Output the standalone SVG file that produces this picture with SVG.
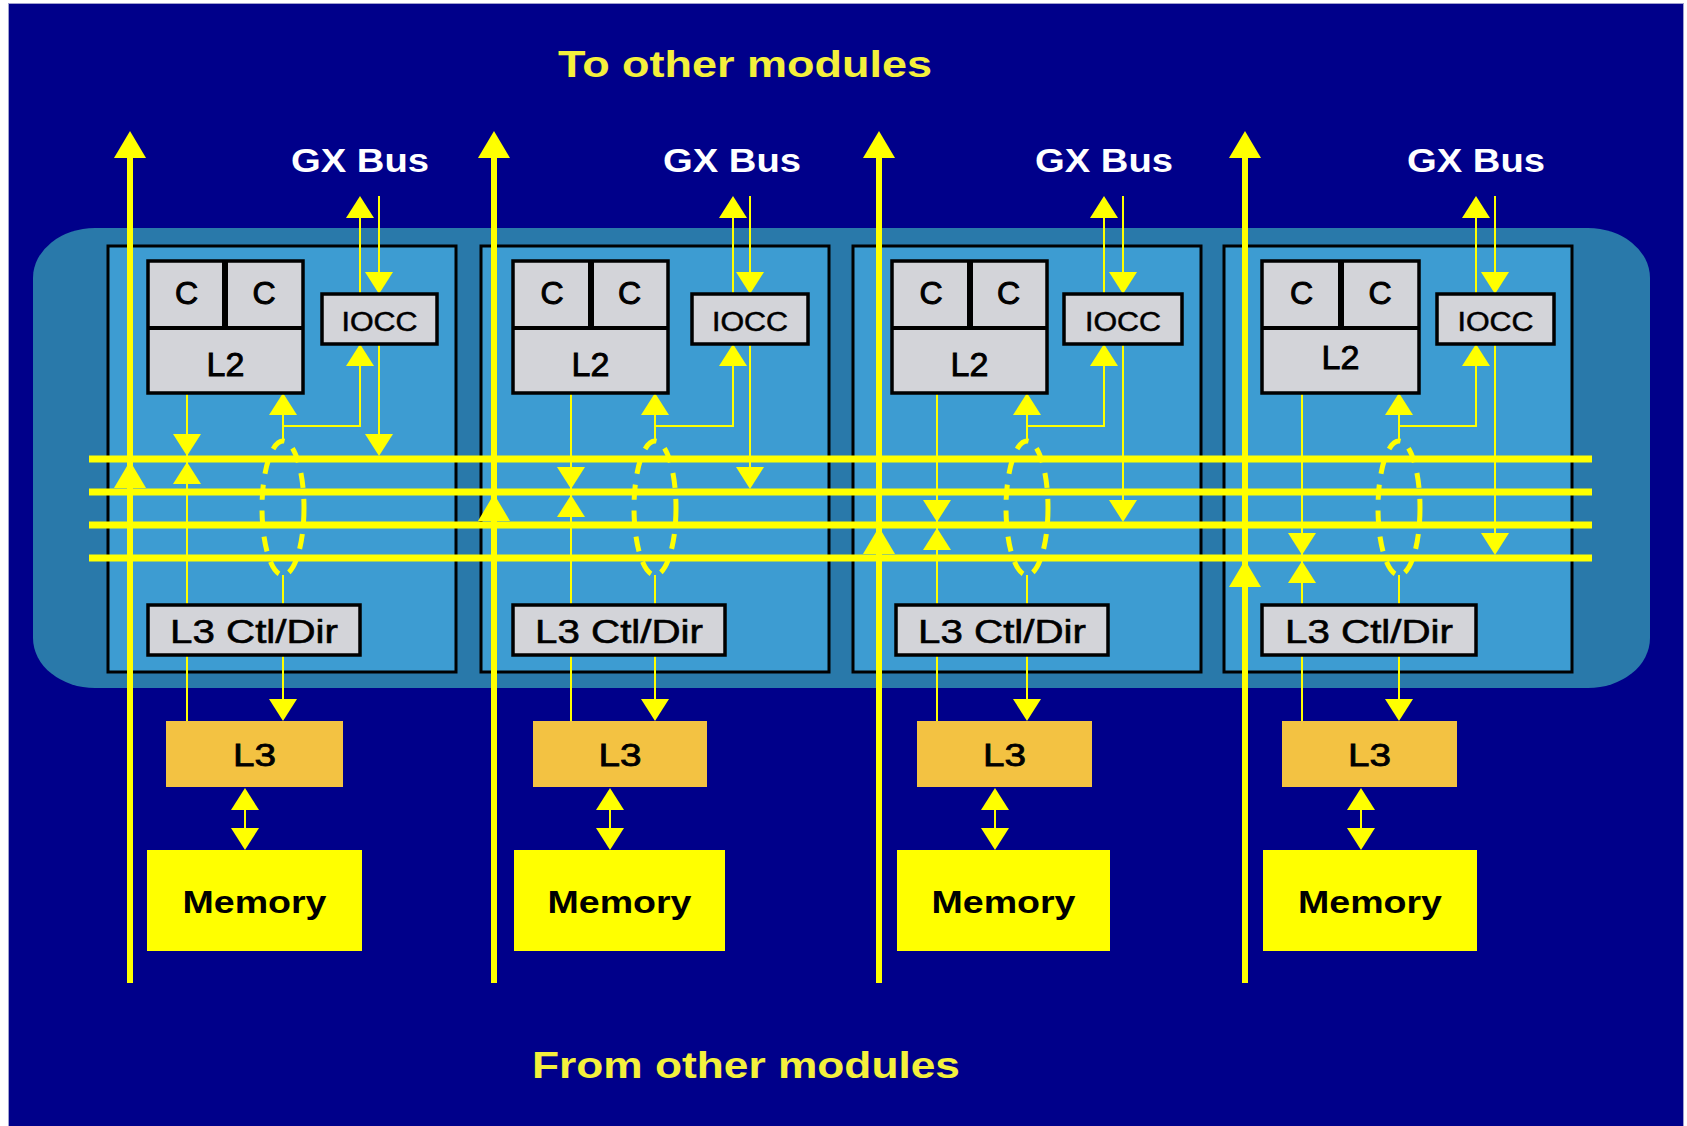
<svg xmlns="http://www.w3.org/2000/svg" xmlns:xlink="http://www.w3.org/1999/xlink" width="1687" height="1126" viewBox="0 0 1687 1126">
<style>
text{font-family:"Liberation Sans",Arial,sans-serif;}
.mod{fill:#3D9CD2;stroke:#000;stroke-width:3;}
.gray{fill:#D3D4D9;stroke:#000;stroke-width:3.5;}
.l3{fill:#F3C242;}
.mem{fill:#FFFF00;}
.bus{stroke:#FFFF00;stroke-width:7;fill:none;}
.vbus{stroke:#FFFF00;stroke-width:6;fill:none;}
.thin{stroke:#FFFF00;stroke-width:2;fill:none;}
.ell{stroke:#FFFF00;stroke-width:5;fill:none;stroke-dasharray:15 11;}
.ah{fill:#FFFF00;}
.lbl{fill:#000;font-size:32px;text-anchor:middle;stroke:#000;stroke-width:1;}
.l2t{fill:#000;font-size:34px;text-anchor:middle;stroke:#000;stroke-width:0.9;}
.io{fill:#000;font-size:27px;text-anchor:middle;stroke:#000;stroke-width:0.5;}
.ctl{fill:#000;font-size:34px;text-anchor:middle;stroke:#000;stroke-width:0.6;}
.l3t{fill:#000;font-size:32px;text-anchor:middle;stroke:#000;stroke-width:0.8;}
.memt{fill:#000;font-size:32px;font-weight:bold;text-anchor:middle;}
.gx{fill:#FFFFFF;font-size:34px;font-weight:bold;text-anchor:middle;}
.title{fill:#F4F03C;font-size:37px;font-weight:bold;text-anchor:middle;}
</style>
<defs>
<path id="up" d="M0,0 L-14,22 L14,22 Z"/>
<path id="dn" d="M0,0 L-14,-22 L14,-22 Z"/>
<path id="bigup" d="M0,0 L-16,27 L16,27 Z"/>
</defs>
<rect x="0" y="0" width="1687" height="1126" fill="#FFFFFF"/>
<rect x="8.5" y="3.5" width="1675" height="1130" fill="#00008A" stroke="#A0A0D0" stroke-width="1"/>
<g id="titles">
<text class="title" x="745" y="77" textLength="374" lengthAdjust="spacingAndGlyphs">To other modules</text>
<text class="title" x="746" y="1078" textLength="428" lengthAdjust="spacingAndGlyphs">From other modules</text>
<text class="gx" x="360" y="172" textLength="138" lengthAdjust="spacingAndGlyphs">GX Bus</text>
<text class="gx" x="732" y="172" textLength="138" lengthAdjust="spacingAndGlyphs">GX Bus</text>
<text class="gx" x="1104" y="172" textLength="138" lengthAdjust="spacingAndGlyphs">GX Bus</text>
<text class="gx" x="1476" y="172" textLength="138" lengthAdjust="spacingAndGlyphs">GX Bus</text>
</g>
<g id="chip">
<rect x="33" y="228" width="1617" height="460" rx="62" ry="50" fill="#2979AA"/>
</g>
<g id="module1"><rect class="mod" x="108" y="246" width="348" height="426"/></g>
<g id="module2"><rect class="mod" x="481" y="246" width="348" height="426"/></g>
<g id="module3"><rect class="mod" x="853" y="246" width="348" height="426"/></g>
<g id="module4"><rect class="mod" x="1224" y="246" width="348" height="426"/></g>

<g id="connectors">
<line class="bus" x1="89" y1="459" x2="1592" y2="459"/>
<line class="bus" x1="89" y1="492" x2="1592" y2="492"/>
<line class="bus" x1="89" y1="525" x2="1592" y2="525"/>
<line class="bus" x1="89" y1="558" x2="1592" y2="558"/>
<line class="vbus" x1="130" y1="150" x2="130" y2="983"/>
<line class="vbus" x1="494" y1="150" x2="494" y2="983"/>
<line class="vbus" x1="879" y1="150" x2="879" y2="983"/>
<line class="vbus" x1="1245" y1="150" x2="1245" y2="983"/>
<g class="ah">
<use xlink:href="#bigup" x="130" y="131"/><use xlink:href="#bigup" x="130" y="461"/>
<use xlink:href="#bigup" x="494" y="131"/><use xlink:href="#bigup" x="494" y="494"/>
<use xlink:href="#bigup" x="879" y="131"/><use xlink:href="#bigup" x="879" y="527"/>
<use xlink:href="#bigup" x="1245" y="131"/><use xlink:href="#bigup" x="1245" y="560"/>
</g>
<path class="thin" d="M360 210 V294 M379 196 V280 M283 442 V405 M283 426 H360 V360 M283 575 V605 M283 655 V705 M187 393 V721 M379 344 V445 M245 800 V838"/>
<ellipse class="ell" cx="283" cy="508" rx="21" ry="67"/>
<g class="ah">
<use xlink:href="#up" x="360" y="196"/><use xlink:href="#dn" x="379" y="294"/>
<use xlink:href="#up" x="360" y="344"/><use xlink:href="#up" x="283" y="393"/>
<use xlink:href="#dn" x="283" y="721"/>
<use xlink:href="#dn" x="187" y="456"/><use xlink:href="#up" x="187" y="462"/>
<use xlink:href="#dn" x="379" y="456"/>
<use xlink:href="#up" x="245" y="788"/><use xlink:href="#dn" x="245" y="850"/>
</g>
<path class="thin" d="M733 210 V294 M750 196 V280 M655 442 V405 M655 426 H733 V360 M655 575 V605 M655 655 V705 M571 393 V721 M750 344 V478 M610 800 V838"/>
<ellipse class="ell" cx="655" cy="508" rx="21" ry="67"/>
<g class="ah">
<use xlink:href="#up" x="733" y="196"/><use xlink:href="#dn" x="750" y="294"/>
<use xlink:href="#up" x="733" y="344"/><use xlink:href="#up" x="655" y="393"/>
<use xlink:href="#dn" x="655" y="721"/>
<use xlink:href="#dn" x="571" y="489"/><use xlink:href="#up" x="571" y="495"/>
<use xlink:href="#dn" x="750" y="489"/>
<use xlink:href="#up" x="610" y="788"/><use xlink:href="#dn" x="610" y="850"/>
</g>
<path class="thin" d="M1104 210 V294 M1123 196 V280 M1027 442 V405 M1027 426 H1104 V360 M1027 575 V605 M1027 655 V705 M937 393 V721 M1123 344 V511 M995 800 V838"/>
<ellipse class="ell" cx="1027" cy="508" rx="21" ry="67"/>
<g class="ah">
<use xlink:href="#up" x="1104" y="196"/><use xlink:href="#dn" x="1123" y="294"/>
<use xlink:href="#up" x="1104" y="344"/><use xlink:href="#up" x="1027" y="393"/>
<use xlink:href="#dn" x="1027" y="721"/>
<use xlink:href="#dn" x="937" y="522"/><use xlink:href="#up" x="937" y="528"/>
<use xlink:href="#dn" x="1123" y="522"/>
<use xlink:href="#up" x="995" y="788"/><use xlink:href="#dn" x="995" y="850"/>
</g>
<path class="thin" d="M1476 210 V294 M1495 196 V280 M1399 442 V405 M1399 426 H1476 V360 M1399 575 V605 M1399 655 V705 M1302 393 V721 M1495 344 V544 M1361 800 V838"/>
<ellipse class="ell" cx="1399" cy="508" rx="21" ry="67"/>
<g class="ah">
<use xlink:href="#up" x="1476" y="196"/><use xlink:href="#dn" x="1495" y="294"/>
<use xlink:href="#up" x="1476" y="344"/><use xlink:href="#up" x="1399" y="393"/>
<use xlink:href="#dn" x="1399" y="721"/>
<use xlink:href="#dn" x="1302" y="555"/><use xlink:href="#up" x="1302" y="561"/>
<use xlink:href="#dn" x="1495" y="555"/>
<use xlink:href="#up" x="1361" y="788"/><use xlink:href="#dn" x="1361" y="850"/>
</g>
</g>

<g id="core1">
<rect class="gray" x="148" y="261" width="155" height="132"/>
<line x1="148" y1="328" x2="303" y2="328" stroke="#000" stroke-width="4"/>
<line x1="225" y1="261" x2="225" y2="328" stroke="#000" stroke-width="6"/>
<text class="lbl" x="186.5" y="304">C</text><text class="lbl" x="264" y="304">C</text>
<text class="l2t" x="225.5" y="376">L2</text>
</g>
<g id="iocc1"><rect class="gray" x="322" y="294" width="115" height="50"/><text class="io" x="379.5" y="331" textLength="76" lengthAdjust="spacingAndGlyphs">IOCC</text></g>
<g id="l3ctl1"><rect class="gray" x="148" y="605" width="212" height="50"/><text class="ctl" x="254" y="643" textLength="168" lengthAdjust="spacingAndGlyphs">L3 Ctl/Dir</text></g>
<g id="l3_1"><rect class="l3" x="166" y="721" width="177" height="66"/><text class="l3t" x="254.5" y="766" textLength="43" lengthAdjust="spacingAndGlyphs">L3</text></g>
<g id="mem1"><rect class="mem" x="147" y="850" width="215" height="101"/><text class="memt" x="254.5" y="913" textLength="144" lengthAdjust="spacingAndGlyphs">Memory</text></g>

<g id="core2">
<rect class="gray" x="513" y="261" width="155" height="132"/>
<line x1="513" y1="328" x2="668" y2="328" stroke="#000" stroke-width="4"/>
<line x1="591" y1="261" x2="591" y2="328" stroke="#000" stroke-width="6"/>
<text class="lbl" x="552" y="304">C</text><text class="lbl" x="629.5" y="304">C</text>
<text class="l2t" x="590.5" y="376">L2</text>
</g>
<g id="iocc2"><rect class="gray" x="692" y="294" width="116" height="50"/><text class="io" x="750" y="331" textLength="76" lengthAdjust="spacingAndGlyphs">IOCC</text></g>
<g id="l3ctl2"><rect class="gray" x="513" y="605" width="212" height="50"/><text class="ctl" x="619" y="643" textLength="168" lengthAdjust="spacingAndGlyphs">L3 Ctl/Dir</text></g>
<g id="l3_2"><rect class="l3" x="533" y="721" width="174" height="66"/><text class="l3t" x="620" y="766" textLength="43" lengthAdjust="spacingAndGlyphs">L3</text></g>
<g id="mem2"><rect class="mem" x="514" y="850" width="211" height="101"/><text class="memt" x="619.5" y="913" textLength="144" lengthAdjust="spacingAndGlyphs">Memory</text></g>

<g id="core3">
<rect class="gray" x="892" y="261" width="155" height="132"/>
<line x1="892" y1="328" x2="1047" y2="328" stroke="#000" stroke-width="4"/>
<line x1="970" y1="261" x2="970" y2="328" stroke="#000" stroke-width="6"/>
<text class="lbl" x="931" y="304">C</text><text class="lbl" x="1008.5" y="304">C</text>
<text class="l2t" x="969.5" y="376">L2</text>
</g>
<g id="iocc3"><rect class="gray" x="1064" y="294" width="118" height="50"/><text class="io" x="1123" y="331" textLength="76" lengthAdjust="spacingAndGlyphs">IOCC</text></g>
<g id="l3ctl3"><rect class="gray" x="896" y="605" width="212" height="50"/><text class="ctl" x="1002" y="643" textLength="168" lengthAdjust="spacingAndGlyphs">L3 Ctl/Dir</text></g>
<g id="l3_3"><rect class="l3" x="917" y="721" width="175" height="66"/><text class="l3t" x="1004.5" y="766" textLength="43" lengthAdjust="spacingAndGlyphs">L3</text></g>
<g id="mem3"><rect class="mem" x="897" y="850" width="213" height="101"/><text class="memt" x="1003.5" y="913" textLength="144" lengthAdjust="spacingAndGlyphs">Memory</text></g>

<g id="core4">
<rect class="gray" x="1262" y="261" width="157" height="132"/>
<line x1="1262" y1="328" x2="1419" y2="328" stroke="#000" stroke-width="4"/>
<line x1="1341" y1="261" x2="1341" y2="328" stroke="#000" stroke-width="6"/>
<text class="lbl" x="1301.5" y="304">C</text><text class="lbl" x="1380" y="304">C</text>
<text class="l2t" x="1340.5" y="369">L2</text>
</g>
<g id="iocc4"><rect class="gray" x="1437" y="294" width="117" height="50"/><text class="io" x="1495.5" y="331" textLength="76" lengthAdjust="spacingAndGlyphs">IOCC</text></g>
<g id="l3ctl4"><rect class="gray" x="1262" y="605" width="214" height="50"/><text class="ctl" x="1369" y="643" textLength="168" lengthAdjust="spacingAndGlyphs">L3 Ctl/Dir</text></g>
<g id="l3_4"><rect class="l3" x="1282" y="721" width="175" height="66"/><text class="l3t" x="1369.5" y="766" textLength="43" lengthAdjust="spacingAndGlyphs">L3</text></g>
<g id="mem4"><rect class="mem" x="1263" y="850" width="214" height="101"/><text class="memt" x="1370" y="913" textLength="144" lengthAdjust="spacingAndGlyphs">Memory</text></g>
</svg>
